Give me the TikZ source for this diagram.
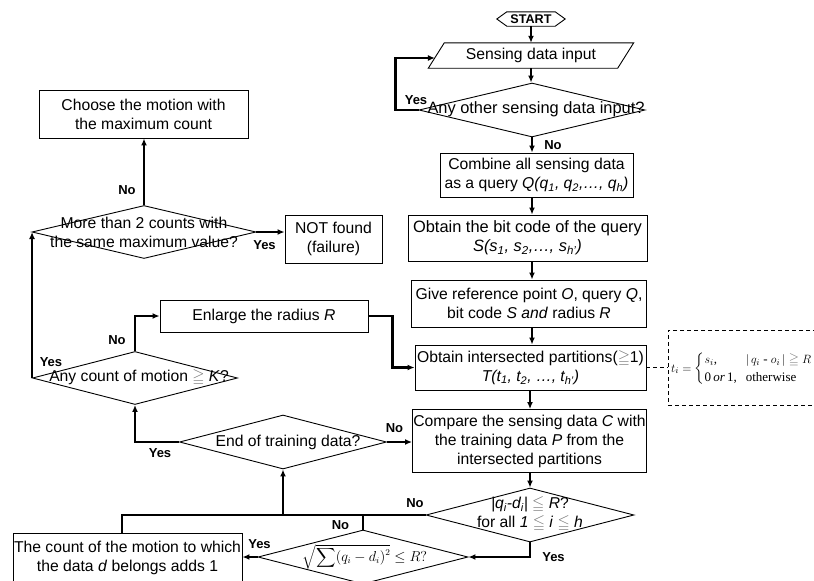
\documentclass[tikz,border=0pt]{standalone}
\usepackage{amsmath}
\usepackage{amssymb}
\usepackage{fontspec}
\setmainfont{Liberation Sans}
\newfontfamily\tnr{Liberation Serif}
\usetikzlibrary{shapes.geometric,arrows.meta}
\newcommand\fs{\fontsize{15.7}{19}\selectfont}
\newcommand\fsb{\fontsize{16.4}{19.5}\selectfont}
\newcommand\sbs[1]{\textsubscript{#1}}
\newcommand\geg{{\color{black!55}$\geqq$}}
\newcommand\leg{{\color{black!55}$\leqq$}}
\begin{document}
\begin{tikzpicture}[x=1pt,y=-1pt,
  box/.style={draw, line width=0.9pt, inner sep=0pt, align=center, font=\fs},
  dia/.style={diamond, draw, line width=0.9pt, inner sep=0pt},
  flow/.style={line width=2.2pt, -{Latex[length=7pt,width=6pt]}},
  link/.style={line width=2.2pt},
  lab/.style={font=\bfseries\fontsize{13}{13}\selectfont, inner sep=0pt},
  txt/.style={font=\fs, align=center, inner sep=0pt}]
\useasboundingbox (0,0) rectangle (814,581);
\clip (0,0) rectangle (814,581);

% START
\node[font=\bfseries\fontsize{12.6}{13}\selectfont, minimum width=48pt, minimum height=14pt, inner sep=0pt] (start) at (531,19) {START};
\draw[line width=0.9pt] (start.north west) -- (start.north east) -- ([xshift=10pt]start.east) -- (start.south east) -- (start.south west) -- ([xshift=-10pt]start.west) -- cycle;

% Sensing data input (parallelogram)
\node[font=\fs, minimum width=173pt, minimum height=25pt, inner sep=0pt] (sdi) at (531,55.5) {Sensing data input};
\draw[line width=0.9pt] (sdi.north west) -- ([xshift=16pt]sdi.north east) -- (sdi.south east) -- ([xshift=-16pt]sdi.south west) -- cycle;
\coordinate (sdiin) at (434.9,58);

% right column
\node[dia, minimum width=226pt, minimum height=54pt] (d1) at (532,110) {};
\node[font=\fsb, inner sep=0pt] (d1t) at (536,109) {Any other sensing data input?};

\node[box, minimum width=193pt, minimum height=44pt] (combine) at (536.5,175) {Combine all sensing data\\as a query \textit{Q(q\sbs{1}, q\sbs{2},…, q\sbs{h})}};
\node[box, font=\fsb, minimum width=239pt, minimum height=46pt] (bit) at (527.5,238) {Obtain the bit code of the query\\\textit{S(s\sbs{1}, s\sbs{2},…, s\sbs{h'})}};
\node[box, minimum width=235pt, minimum height=47pt] (give) at (529,303.5) {Give reference point \textit{O}, query \textit{Q},\\bit code \textit{S and} radius \textit{R}};
\node[box, minimum width=231pt, minimum height=45pt] (obtain) at (530.5,367.5) {Obtain intersected partitions(\geg1)\\\textit{T(t\sbs{1}, t\sbs{2}, …, t\sbs{h'})}};
\node[box, minimum width=234pt, minimum height=63pt] (compare) at (529.5,441) {Compare the sensing data \textit{C} with\\the training data \textit{P} from the\\intersected partitions};
\node[dia, minimum width=208pt, minimum height=54pt] (d2) at (530,515) {};
\node[txt] (d2t) at (530,514) {\textit{|q\sbs{i}-d\sbs{i}|} \leg{} \textit{R}?\\for all \textit{1} \leg{} \textit{i} \leg{} \textit{h}};

% dashed formula box
\node[draw, dashed, dash pattern=on 4pt off 3pt, line width=0.9pt, minimum width=170pt, minimum height=75pt, inner sep=0pt] (fbox) at (753,367.5) {};
\node[anchor=west, inner sep=0pt, font=\tnr\fontsize{13}{16}\selectfont] (ftxt) at (671,369)
  {$t_i=\left\{\begin{tabular}{@{}l@{\hspace{9pt}}l@{}}$s_i$, & $|\,q_i$ - $o_i\,|$ \geg{} $R$\\[2pt] 0\,\textit{or}\,1, & otherwise\end{tabular}\right.$};

% left part
\node[box, minimum width=209pt, minimum height=48pt] (choose) at (143.5,114) {Choose the motion with\\the maximum count};
\node[dia, minimum width=224pt, minimum height=53pt] (d3) at (144,232) {};
\node[txt] (d3t) at (144,232) {More than 2 counts with\\the same maximum value?};
\node[box, minimum width=97pt, minimum height=48pt] (notfound) at (333.5,239) {NOT found\\(failure)};
\node[box, minimum width=208pt, minimum height=32pt] (enlarge) at (264,316) {Enlarge the radius \textit{R}};
\node[dia, minimum width=205pt, minimum height=53pt] (d4) at (135,378) {};
\node[txt] (d4t) at (139,378) {Any count of motion \geg{} \textit{K}?};
\node[dia, minimum width=207pt, minimum height=54pt] (d5) at (283,442) {};
\node[txt] (d5t) at (288,442) {End of training data?};
\node[dia, minimum width=210pt, minimum height=54pt] (d6) at (363,557) {};
\node[inner sep=0pt, font=\fontsize{13.5}{14}\selectfont] (d6t) at (365,557) {$\sqrt{\displaystyle\sum (q_i-d_i)^2}\le R?$};
\node[box, minimum width=229pt, minimum height=50pt] (count) at (127.5,558) {The count of the motion to which\\the data \textit{d} belongs adds 1};

% connectors right column
\draw[flow] (start.south) -- (start.south |- sdi.north);
\draw[flow] (sdi.south) -- (sdi.south |- d1.north);
\draw[flow] (d1.south) -- (d1.south |- combine.north);
\draw[flow] (d1.south |- combine.south) -- (d1.south |- bit.north);
\draw[flow] (d1.south |- bit.south) -- (d1.south |- give.north);
\draw[flow] (d1.south |- give.south) -- (d1.south |- obtain.north);
\draw[flow] (d2.north |- obtain.south) -- (d2.north |- compare.north);
\draw[flow] (d2.north |- compare.south) -- (d2.north);
\draw[flow] (d1.west) -- ++(-23,0) |- (sdiin);
\draw[dashed, dash pattern=on 4pt off 3pt, line width=0.9pt] (obtain.east) -- (obtain.east -| fbox.west);

% lower loop
\draw[flow] (d2.south) |- (d6.east);
\draw[link] (d2.west) -| ([xshift=-5.5pt]count.north);
\draw[link] (d6.north) -- (d6.north |- d2.west);
\draw[flow] (d5.south |- d2.west) -- (d5.south);
\draw[flow] (d6.west) -- (d6.west -| count.east);
\draw[flow] (d5.east) -- (d5.east -| compare.west);
\draw[flow] (d5.west) -| (d4.south);
\draw[flow] (d4.north) |- (enlarge.west);
\draw[flow] (enlarge.east) -- ++(24,0) |- (obtain.west);
\draw[flow] (d4.west) -- (d4.west |- d3.west);
\draw[flow] (d3.north) -- (d3.north |- choose.south);
\draw[flow] (d3.east) -- (d3.east -| notfound.west);

% labels
\node[lab] (l1) at (416,100) {Yes};
\node[lab] (l2) at (553,145) {No};
\node[lab] (l3) at (127,190) {No};
\node[lab] (l4) at (264.5,245) {Yes};
\node[lab] (l5) at (51,362) {Yes};
\node[lab] (l6) at (117,340) {No};
\node[lab] (l7) at (160,453) {Yes};
\node[lab] (l8) at (394.5,428) {No};
\node[lab] (l9) at (415,503) {No};
\node[lab] (l10) at (340.5,525) {No};
\node[lab] (l11) at (259.5,544) {Yes};
\node[lab] (l12) at (553.5,557) {Yes};
\end{tikzpicture}
\end{document}
